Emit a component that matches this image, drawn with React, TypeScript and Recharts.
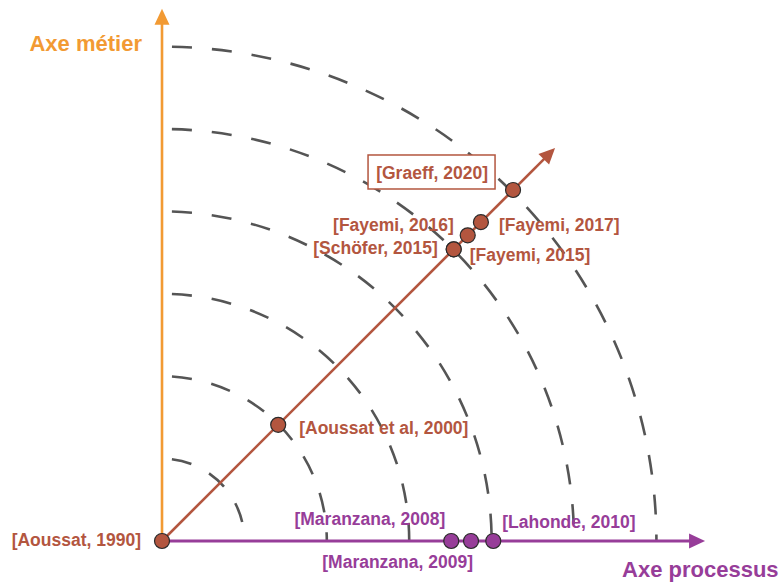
import { ScatterChart, Scatter, XAxis, YAxis, ReferenceLine } from 'recharts';

// unité : 1 = écart entre deux arcs pointillés
const arcRadii = [1, 2, 3, 4, 5, 6];

// axe métier + processus (diagonale)
const diagNames = [
  '[Aoussat, 1990]',
  '[Aoussat et al, 2000]',
  '[Schöfer, 2015]',
  '[Fayemi, 2015]',
  '[Fayemi, 2016]',
  '[Fayemi, 2017]',
  '[Graeff, 2020]',
];
const diagPos = [0, 1.41, 3.54, 3.54, 3.71, 3.87, 4.26];

// axe processus
const processNames = ['[Maranzana, 2008]', '[Maranzana, 2009]', '[Lahonde, 2010]'];
const processPos = [3.51, 3.75, 4.02];

const metierAxisEnd = 6.46;
const processAxisEnd = 6.59;
const diagAxisEnd = 4.77;

const W = 783;
const H = 583;
const X_DOMAIN: [number, number] = [-1.966, 7.536];
const Y_DOMAIN: [number, number] = [-0.51, 6.566];

const ORANGE = '#F29A33';
const RED = '#B3563F';
const PURPLE = '#973D99';
const FONT = '"Liberation Sans", Arial, Helvetica, sans-serif';

const labelPlace: Record<string, { dx: number; dy: number; anchor: 'start' | 'end' }> = {
  '[Aoussat, 1990]': { dx: -21, dy: -1, anchor: 'end' },
  '[Aoussat et al, 2000]': { dx: 21, dy: 3, anchor: 'start' },
  '[Schöfer, 2015]': { dx: -16, dy: -1, anchor: 'end' },
  '[Fayemi, 2015]': { dx: 16, dy: 6, anchor: 'start' },
  '[Fayemi, 2016]': { dx: -14, dy: -10, anchor: 'end' },
  '[Fayemi, 2017]': { dx: 18, dy: 3, anchor: 'start' },
  '[Graeff, 2020]': { dx: -25, dy: -17, anchor: 'end' },
  '[Maranzana, 2008]': { dx: -6, dy: -22, anchor: 'end' },
  '[Maranzana, 2009]': { dx: 2, dy: 21, anchor: 'end' },
  '[Lahonde, 2010]': { dx: 9, dy: -19, anchor: 'start' },
};

const diagData = diagNames.map((name, i) => ({ x: diagPos[i], y: diagPos[i], name }));
const processData = processNames.map((name, i) => ({ x: processPos[i], y: 0, name }));

function makePoint(color: string) {
  return (props: any) => {
    const { cx, cy, payload } = props;
    const p = labelPlace[payload.name];
    const boxed = payload.name === '[Graeff, 2020]';
    return (
      <g>
        {boxed && (
          <rect x={cx - 145} y={cy - 35} width={127} height={34} fill="#fff" stroke={color} strokeWidth={1.5} />
        )}
        <circle cx={cx} cy={cy} r={7.5} fill={color} stroke="#2b2b2b" strokeWidth={1.2} />
        {p && (
          <text
            x={cx + p.dx}
            y={cy + p.dy}
            textAnchor={p.anchor}
            dominantBaseline="central"
            fill={color}
            fontFamily={FONT}
            fontWeight="bold"
            fontSize={17.5}
          >
            {payload.name}
          </text>
        )}
      </g>
    );
  };
}

function arrow(color: string, width: number, title?: { text: string; dx: number; dy: number; anchor: 'start' | 'end' }) {
  return (props: any) => {
    const { x1, y1, x2, y2 } = props;
    const len = Math.hypot(x2 - x1, y2 - y1);
    const ux = (x2 - x1) / len;
    const uy = (y2 - y1) / len;
    const head = 16;
    const half = 7.5;
    const bx = x2 - ux * head;
    const by = y2 - uy * head;
    const pts = `${x2},${y2} ${bx - uy * half},${by + ux * half} ${bx + uy * half},${by - ux * half}`;
    return (
      <g>
        <line x1={x1} y1={y1} x2={bx + ux} y2={by + uy} stroke={color} strokeWidth={width} />
        <polygon points={pts} fill={color} />
        {title && (
          <text
            x={x2 + title.dx}
            y={y2 + title.dy}
            textAnchor={title.anchor}
            dominantBaseline="central"
            fill={color}
            fontFamily={FONT}
            fontWeight="bold"
            fontSize={22}
          >
            {title.text}
          </text>
        )}
      </g>
    );
  };
}

const arcShape = (props: any) => {
  const { x1, y1, x2, y2 } = props;
  const rad = x1 - x2;
  return (
    <path
      d={`M ${x2} ${y2} A ${rad} ${rad} 0 0 1 ${x1} ${y1}`}
      fill="none"
      stroke="#555"
      strokeWidth={2.6}
      strokeDasharray="20 20"
      strokeDashoffset={-10}
    />
  );
};

export default function App() {
  return (
    <div style={{ position: 'absolute', left: 0, top: 0, width: W, height: H, background: '#fff' }}>
      <ScatterChart width={W} height={H} margin={{ top: 0, right: 0, bottom: 0, left: 0 }}>
        <XAxis type="number" dataKey="x" domain={X_DOMAIN} hide allowDataOverflow />
        <YAxis type="number" dataKey="y" domain={Y_DOMAIN} hide allowDataOverflow />
        {arcRadii.map((r) => (
          <ReferenceLine
            key={`arc-${r}`}
            segment={[{ x: r, y: 0 }, { x: 0, y: r }]}
            shape={arcShape}
          />
        ))}
        <ReferenceLine
          segment={[{ x: 0, y: 0 }, { x: 0, y: metierAxisEnd }]}
          shape={arrow(ORANGE, 2.6, { text: 'Axe métier', dx: -20, dy: 35, anchor: 'end' })}
        />
        <ReferenceLine
          segment={[{ x: 0, y: 0 }, { x: processAxisEnd, y: 0 }]}
          shape={arrow(PURPLE, 3, { text: 'Axe processus', dx: -83, dy: 29, anchor: 'start' })}
        />
        <ReferenceLine
          segment={[{ x: 0, y: 0 }, { x: diagAxisEnd, y: diagAxisEnd }]}
          shape={arrow(RED, 2.6)}
        />
        <Scatter data={processData} shape={makePoint(PURPLE)} isAnimationActive={false} />
        <Scatter data={diagData} shape={makePoint(RED)} isAnimationActive={false} />
      </ScatterChart>
    </div>
  );
}
